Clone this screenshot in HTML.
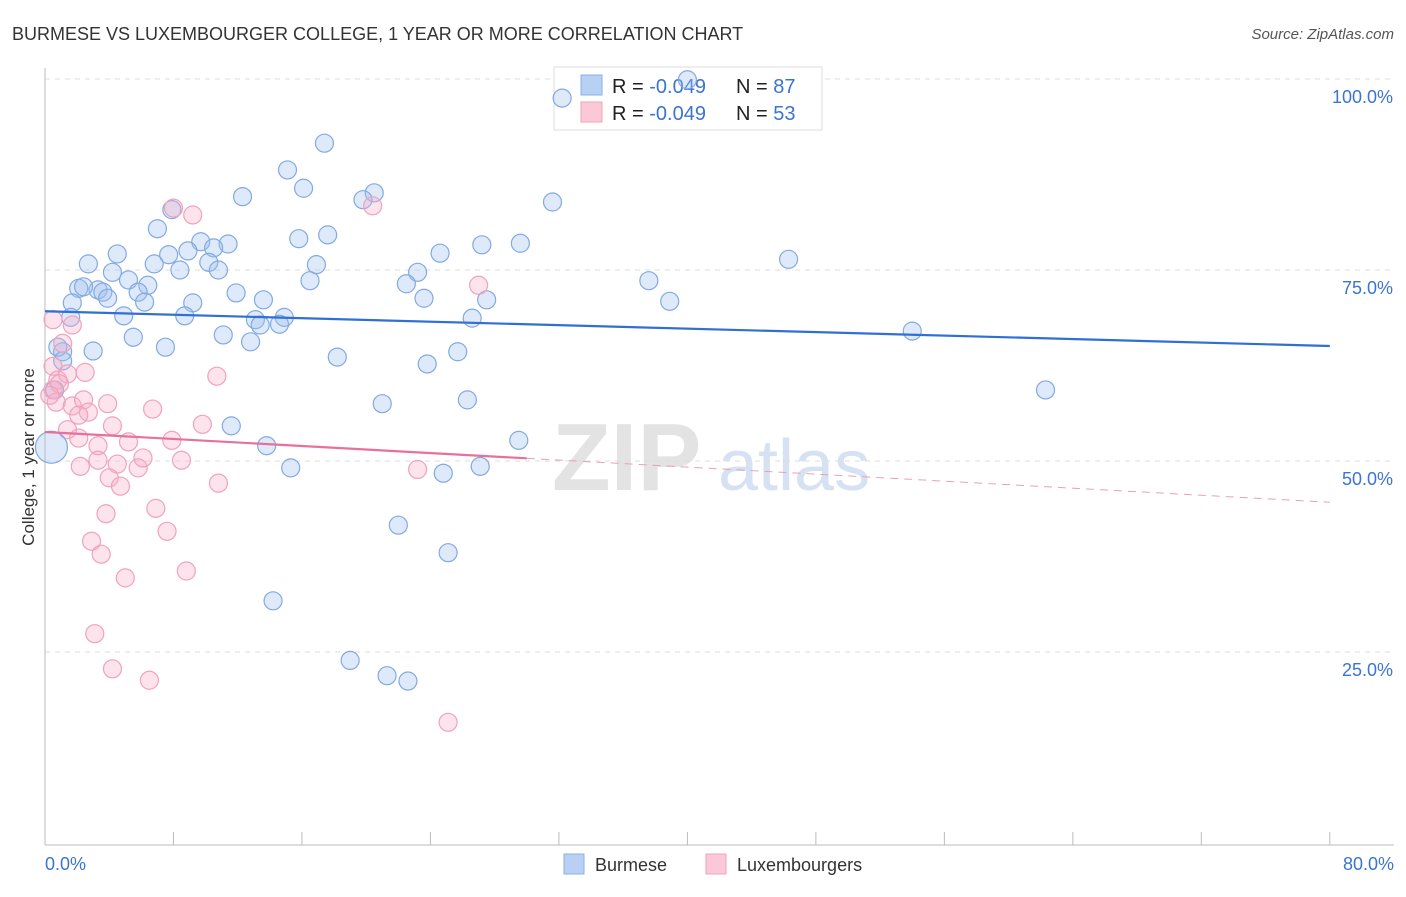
<!DOCTYPE html>
<html><head><meta charset="utf-8">
<style>
body{margin:0;background:#fff;font-family:"Liberation Sans",sans-serif;}
svg text{font-family:"Liberation Sans",sans-serif;}
</style></head>
<body>
<svg id="chart" width="1406" height="892" xmlns="http://www.w3.org/2000/svg">
<text x="12" y="40" font-size="18" fill="#333">BURMESE VS LUXEMBOURGER COLLEGE, 1 YEAR OR MORE CORRELATION CHART</text>
<text x="1394" y="39" font-size="15" fill="#555" text-anchor="end" font-style="italic">Source: ZipAtlas.com</text>
<g>
<text x="552" y="490" font-size="96" fill="#e3e3e3" font-family="Liberation Serif" font-weight="bold">ZIP</text>
<text x="718" y="490" font-size="72" fill="#d6e2f3">atlas</text>
</g>
<g id="grid"></g>
<g id="axes"></g>
<g>
<rect x="554" y="67" width="268" height="63" fill="#fff" stroke="#ddd"/>
<rect x="581" y="75" width="21" height="20" fill="#b8d0f3" stroke="#8ab0e6"/>
<rect x="581" y="102" width="21" height="20" fill="#fbc8d8" stroke="#f0a2bc"/>
<text x="612" y="93" font-size="20" fill="#222">R = <tspan fill="#3b74d1">-0.049</tspan></text>
<text x="736" y="93" font-size="20" fill="#222">N = <tspan fill="#3b74d1">87</tspan></text>
<text x="612" y="120" font-size="20" fill="#222">R = <tspan fill="#3b74d1">-0.049</tspan></text>
<text x="736" y="120" font-size="20" fill="#222">N = <tspan fill="#3b74d1">53</tspan></text>
</g>
<g id="pts"></g>
<g id="trends"></g>
<text transform="translate(34,457) rotate(-90)" font-size="17" fill="#333" text-anchor="middle">College, 1 year or more</text>
<g>
<rect x="564" y="854" width="20" height="20" fill="#b8d0f3" stroke="#8ab0e6"/>
<text x="595" y="871" font-size="18" fill="#333">Burmese</text>
<rect x="706" y="854" width="20" height="20" fill="#fbc8d8" stroke="#f0a2bc"/>
<text x="737" y="871" font-size="18" fill="#333">Luxembourgers</text>
</g>
</svg>
<script>
const blueX=[32.2,17.4,15.1,16.1,12.3,20.5,19.8,31.6,7.9,7.0,17.6,15.8,11.4,9.7,10.5,8.9,7.7,4.5,2.7,6.8,10.2,8.4,10.8,16.9,24.6,27.2,29.6,23.2,46.3,37.6,38.9,4.2,5.2,6.4,2.1,3.3,2.4,3.6,3.9,5.8,6.2,11.9,13.6,16.5,22.5,23.6,27.5,1.7,9.2,1.6,4.9,8.7,13.1,14.9,13.4,14.6,26.6,5.5,11.1,12.8,7.5,3.0,1.1,0.8,25.7,18.2,23.8,54.0,62.3,21.0,26.3,11.6,29.5,13.8,15.3,24.8,27.1,22.0,25.1,14.2,19.0,21.3,22.6,0.6,1.1,40.0];
const blueY=[97.5,91.6,88.1,85.7,84.6,85.1,84.2,83.9,82.9,80.4,79.6,79.1,78.4,78.7,77.9,77.5,77.0,77.1,75.8,75.8,76.0,75.0,75.0,75.7,77.2,78.3,78.5,74.7,76.4,73.6,70.9,74.7,73.7,73.0,72.6,72.4,72.8,72.1,71.3,72.1,70.8,72.0,71.1,73.6,73.2,71.3,71.1,70.7,70.7,68.8,69.0,69.0,68.5,68.8,67.8,67.9,68.7,66.2,66.5,65.6,64.9,64.4,64.3,64.9,64.3,63.6,62.7,67.0,59.3,57.5,58.0,54.6,52.7,52.0,49.1,48.4,49.3,41.6,38.0,31.7,23.9,21.9,21.2,59.3,63.1,99.9];
const pinkX=[0.5,1.7,1.1,0.5,0.8,1.4,0.5,2.5,0.7,1.7,2.4,2.7,3.9,2.1,1.4,2.1,3.3,4.2,6.7,9.8,5.2,7.9,3.3,2.2,4.5,5.8,6.1,8.5,4.0,4.7,10.8,10.7,8.0,9.2,20.4,27.0,23.2,3.8,6.9,7.6,2.9,3.5,5.0,8.8,3.1,4.2,6.5,25.1,0.9,0.3];
const pinkY=[68.5,67.8,65.4,62.4,60.6,61.4,59.3,61.6,57.7,57.2,58.0,56.4,57.5,56.0,54.1,53.0,52.0,54.6,56.8,54.8,52.5,52.7,50.1,49.3,49.6,49.1,50.4,50.1,47.8,46.7,47.1,61.1,83.1,82.2,83.4,73.0,48.9,43.1,43.8,40.8,39.5,37.8,34.7,35.6,27.4,22.8,21.3,15.8,60.1,58.6];
const blueTrend=[69.6,65.05];
const pinkTrend=[53.8,44.6];
const pinkSolidEnd=30;
const yTicks=[100,75,50,25];
const yTickLabels=["100.0%","75.0%","50.0%","25.0%"];
const xTicks=[0,8,16,24,32,40,48,56,64,72,80];
const NS="http://www.w3.org/2000/svg";
const X=v=>45+v*16.06, Y=v=>843-v*7.64;
function mk(t,a,p){const e=document.createElementNS(NS,t);for(const k in a)e.setAttribute(k,a[k]);p.appendChild(e);return e;}
const grid=document.getElementById('grid'),axes=document.getElementById('axes'),pts=document.getElementById('pts'),tr=document.getElementById('trends');
yTicks.forEach((v,i)=>{
 const l=mk('line',{x1:45,x2:1394,y1:Y(v),y2:Y(v),stroke:'#ddd','stroke-dasharray':'5,5'},grid);
 
 
 const t=mk('text',{x:1393,y:Y(v)+24,'font-size':18,fill:'#3b74d1','text-anchor':'end'},axes);
 t.textContent=yTickLabels[i];
 
 
});
const ax=mk('line',{x1:45,x2:45,y1:68,y2:845,stroke:'#bbb'},axes);


const bx=mk('line',{x1:45,x2:1394,y1:845,y2:845,stroke:'#bbb'},axes);


xTicks.forEach(v=>{const t=mk('line',{x1:X(v),x2:X(v),y1:832,y2:845,stroke:'#bbb'},axes);
 
 });
const x0=mk('text',{x:45,y:870,'font-size':18,fill:'#3b74d1'},axes);x0.textContent='0.0%';


const x1=mk('text',{x:1394,y:870,'font-size':18,fill:'#3b74d1','text-anchor':'end'},axes);x1.textContent='80.0%';


blueX.forEach((v,i)=>{const c=mk('circle',{cx:X(v),cy:Y(blueY[i]),r:9,fill:'rgba(160,192,238,0.35)',stroke:'#82aae2','stroke-width':1.2},pts);
 
 });
pinkX.forEach((v,i)=>{const c=mk('circle',{cx:X(v),cy:Y(pinkY[i]),r:9,fill:'rgba(246,176,200,0.35)',stroke:'#f0a2bc','stroke-width':1.2},pts);
 
 });
const big=mk('circle',{cx:X(0.4),cy:Y(51.8),r:16,fill:'rgba(160,192,238,0.35)',stroke:'#82aae2','stroke-width':1.2},pts);


const bl=mk('line',{x1:X(0),y1:Y(blueTrend[0]),x2:X(80),y2:Y(blueTrend[1]),stroke:'#2f6fd6','stroke-width':2.2},tr);


const pAt=x=>pinkTrend[0]+(pinkTrend[1]-pinkTrend[0])*x/80;
const pl=mk('line',{x1:X(0),y1:Y(pAt(0)),x2:X(pinkSolidEnd),y2:Y(pAt(pinkSolidEnd)),stroke:'#e8709a','stroke-width':2.2},tr);


const pd=mk('line',{x1:X(pinkSolidEnd),y1:Y(pAt(pinkSolidEnd)),x2:X(80),y2:Y(pAt(80)),stroke:'#e8a0b8','stroke-width':1,'stroke-dasharray':'8,6'},tr);


</script>
</body></html>
